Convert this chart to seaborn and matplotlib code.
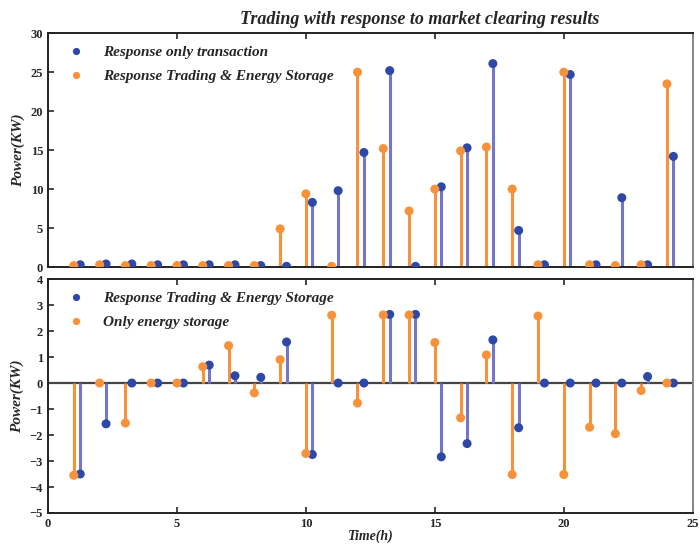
import matplotlib
matplotlib.use("Agg")
import matplotlib.pyplot as plt
import numpy as np
import pandas as pd
import seaborn as sns

# 时段 1..24
hours = list(range(1, 25))

# 上图：响应交易结果 (KW)
resp_only = [0.3, 0.4, 0.4, 0.3, 0.3, 0.3, 0.3, 0.2, 0.1, 8.3, 9.8, 14.7,
             25.2, 0.1, 10.3, 15.3, 26.1, 4.7, 0.3, 24.7, 0.3, 8.9, 0.3, 14.2]
resp_storage = [0.2, 0.3, 0.2, 0.2, 0.2, 0.2, 0.2, 0.2, 4.9, 9.4, 0.1, 25.0,
                15.2, 7.2, 10.0, 14.9, 15.4, 10.0, 0.3, 25.0, 0.3, 0.2, 0.3, 23.5]

# 下图：储能功率 (KW)
resp_storage_es = [-3.5, -1.57, 0.0, 0.0, 0.0, 0.69, 0.28, 0.22, 1.58, -2.75, 0.0, 0.0,
                   2.64, 2.64, -2.84, -2.33, 1.66, -1.72, 0.0, 0.0, 0.0, 0.0, 0.25, 0.0]
only_storage = [-3.55, 0.0, -1.54, 0.0, 0.0, 0.63, 1.44, -0.38, 0.9, -2.71, 2.61, -0.77,
                2.62, 2.62, 1.56, -1.34, 1.08, -3.52, 2.58, -3.52, -1.70, -1.95, -0.29, 0.0]

BLUE_STEM = "#7377c9"
BLUE_DOT = "#2e48a8"
ORANGE = "#f7923a"
SHIFT = 0.25

sns.set_theme(style="ticks")
plt.rcParams["font.family"] = ["Liberation Serif", "DejaVu Serif"]
plt.rcParams["font.weight"] = "bold"

fig = plt.figure(figsize=(7, 5.44), dpi=100)
ax1 = fig.add_axes([0.0686, 0.509, 0.921, 0.430])
ax2 = fig.add_axes([0.0686, 0.057, 0.921, 0.430])


def draw_panel(ax, blue_vals, orange_vals, blue_lab, orange_lab, order):
    h = np.array(hours, dtype=float)
    ax.vlines(h, 0, orange_vals, color=ORANGE, lw=2.2, zorder=2)
    ax.vlines(h + SHIFT, 0, blue_vals, color=BLUE_STEM, lw=2.2, zorder=2)
    df = pd.concat([
        pd.DataFrame({"t": h + SHIFT, "p": blue_vals, "s": blue_lab}),
        pd.DataFrame({"t": h, "p": orange_vals, "s": orange_lab}),
    ])
    pal = {blue_lab: BLUE_DOT, orange_lab: ORANGE}
    sns.scatterplot(data=df, x="t", y="p", hue="s", hue_order=order, palette=pal,
                    s=42, edgecolor="none", ax=ax, zorder=3)
    ax.legend(loc="upper left", frameon=False, handletextpad=0.8,
              labelspacing=0.7, borderaxespad=0.4, markerscale=0.8,
              prop={"family": "Liberation Serif", "style": "italic",
                    "weight": "bold", "size": 11})
    ax.set_xlim(0, 25)
    ax.set_xlabel("")
    ax.set_ylabel("Power(KW)", fontsize=11, fontstyle="italic", fontweight="bold")
    ax.tick_params(direction="in", labelsize=9, width=1.2, length=4,
                   top=True, right=False)
    for sp in ax.spines.values():
        sp.set_linewidth(1.4)
        sp.set_color("#222222")
    ax.spines["right"].set_color("#888888")


draw_panel(ax1, resp_only, resp_storage,
           "Response only transaction", "Response Trading & Energy Storage",
           ["Response only transaction", "Response Trading & Energy Storage"])
ax1.set_ylim(0, 30)
ax1.set_yticks([0, 5, 10, 15, 20, 25, 30])
ax1.set_xticks([0, 5, 10, 15, 20, 25])
ax1.set_xticklabels([])

draw_panel(ax2, resp_storage_es, only_storage,
           "Response Trading & Energy Storage", "Only energy storage",
           ["Response Trading & Energy Storage", "Only energy storage"])
ax2.axhline(0, color="#444444", lw=1.6, zorder=1)
ax2.set_ylim(-5, 4)
ax2.set_yticks(range(-5, 5))
ax2.set_xticks([0, 5, 10, 15, 20, 25])
ax2.set_xlabel("Time(h)", fontsize=10, fontstyle="italic", fontweight="bold",
               labelpad=0)

fig.text(0.60, 0.965, "Trading with response to market clearing results",
         ha="center", va="center", fontsize=13, fontstyle="italic",
         fontweight="bold")

fig.savefig("out.png", dpi=100)
